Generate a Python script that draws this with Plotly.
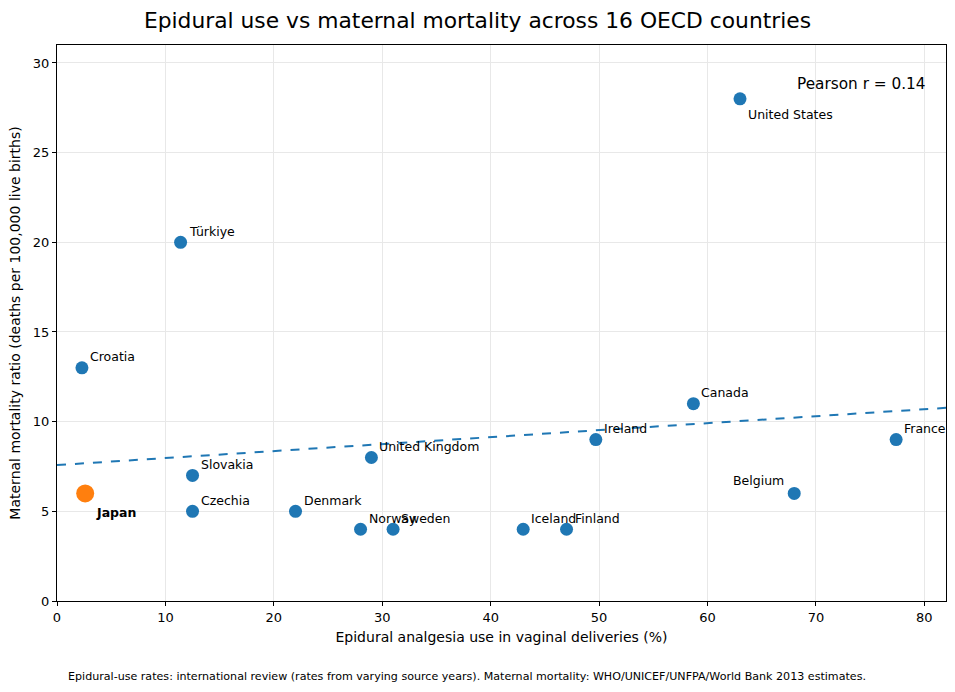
import numpy as np
import plotly.graph_objects as go

# data
countries = ["Japan", "Croatia", "Türkiye", "Slovakia", "Czechia", "Denmark",
             "United Kingdom", "Norway", "Sweden", "Iceland", "Finland",
             "Ireland", "Canada", "Belgium", "France", "United States"]
epidural = [2.6, 2.3, 11.4, 12.5, 12.5, 22.0, 29.0, 28.0, 31.0, 43.0, 47.0,
            49.7, 58.7, 68.0, 77.4, 63.0]
mortality = [6, 13, 20, 7, 5, 5, 8, 4, 4, 4, 4, 9, 11, 6, 9, 28]

title = "Epidural use vs maternal mortality across 16 OECD countries"
x_title = "Epidural analgesia use in vaginal deliveries (%)"
y_title = "Maternal mortality ratio (deaths per 100,000 live births)"
note = ("Epidural-use rates: international review (rates from varying source years). "
        "Maternal mortality: WHO/UNICEF/UNFPA/World Bank 2013 estimates.")

x_range = [0, 82]
y_range = [0, 31]

FONT = "DejaVu Sans"
BLUE = "#1f77b4"
ORANGE = "#ff7f0e"

x = np.array(epidural)
y = np.array(mortality)
r = np.corrcoef(x, y)[0, 1]
slope, icpt = np.polyfit(x, y, 1)
xl = np.array(x_range, dtype=float)

others = [i for i, c in enumerate(countries) if c != "Japan"]
jp = countries.index("Japan")

fig = go.Figure()
fig.add_trace(go.Scatter(x=xl, y=slope * xl + icpt, mode="lines",
                         line=dict(color=BLUE, width=2, dash="dash"),
                         hoverinfo="skip", showlegend=False))
fig.add_trace(go.Scatter(x=[x[i] for i in others], y=[y[i] for i in others],
                         mode="markers", marker=dict(color=BLUE, size=13),
                         text=[countries[i] for i in others], showlegend=False))
fig.add_trace(go.Scatter(x=[x[jp]], y=[y[jp]], mode="markers",
                         marker=dict(color=ORANGE, size=18),
                         text=["Japan"], showlegend=False))

# label placement per country (pixel shifts)
special = {
    "Japan": dict(xshift=9, yshift=-19, xanchor="left", yanchor="middle"),
    "United States": dict(xshift=6, yshift=-16, xanchor="left", yanchor="middle"),
    "Belgium": dict(xshift=-8, yshift=13, xanchor="right", yanchor="middle"),
}
for c, xv, yv in zip(countries, epidural, mortality):
    pos = special.get(c, dict(xshift=6, yshift=11, xanchor="left", yanchor="middle"))
    txt = "<b>%s</b>" % c if c == "Japan" else c
    fig.add_annotation(x=xv, y=yv, text=txt, showarrow=False,
                       font=dict(family=FONT, size=12.5, color="black"), **pos)

fig.add_annotation(x=0.98, y=0.95, xref="paper", yref="paper",
                   text="Pearson r = %.2f" % r, showarrow=False,
                   xanchor="right", yanchor="top",
                   font=dict(family=FONT, size=15.3, color="black"))
fig.add_annotation(x=0.01, y=-0.135, xref="paper", yref="paper", text=note,
                   showarrow=False, xanchor="left", yanchor="middle",
                   font=dict(family=FONT, size=11.1, color="black"))

axis_style = dict(showline=True, linecolor="black", linewidth=1, mirror=True,
                  ticks="outside", ticklen=4, tickcolor="black",
                  showgrid=True, gridcolor="#e8e8e8", zeroline=False,
                  automargin=False,
                  tickfont=dict(family=FONT, size=13, color="black"))

fig.update_layout(
    width=955, height=692,
    margin=dict(l=57, r=9, t=45, b=91),
    paper_bgcolor="white", plot_bgcolor="white",
    title=dict(text=title, x=0.5, xanchor="center", y=0.971, yanchor="middle",
               font=dict(family=FONT, size=21.8, color="black")),
    xaxis=dict(range=x_range, dtick=10, title=dict(text=x_title, standoff=8,
               font=dict(family=FONT, size=14, color="black")), **axis_style),
    yaxis=dict(range=y_range, dtick=5, title=dict(text=y_title, standoff=8,
               font=dict(family=FONT, size=14, color="black")), **axis_style),
    font=dict(family=FONT),
)

# drop the default 8px page margin so the figure sits at the window corner
fig.write_html("out.html", config={"displayModeBar": False},
               post_script="document.body.style.margin='0';")
